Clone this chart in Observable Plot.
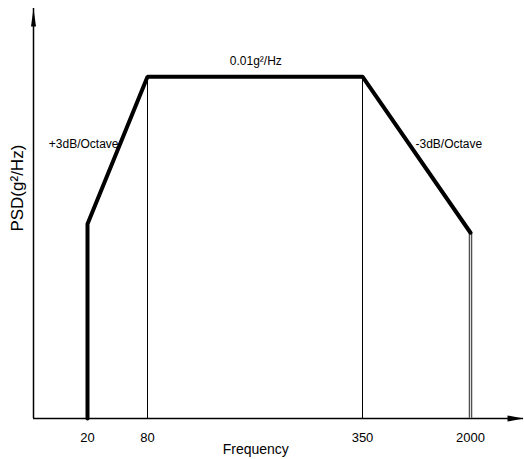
<!DOCTYPE html>
<html>
<head>
<meta charset="utf-8">
<script src="https://cdn.jsdelivr.net/npm/d3@7"></script>
<script src="https://cdn.jsdelivr.net/npm/@observablehq/plot@0.6"></script>
<style>
  html, body { margin: 0; padding: 0; background: #fff; }
  #chart svg { display: block; }
</style>
</head>
<body>
<div id="chart"></div>
<script>
// Frequency breakpoints (Hz) and PSD levels (g²/Hz) of the test profile
const freqTicks = [20, 80, 350, 2000];
const profileFreq = [20, 20, 80, 350, 2000];
const profilePsd = [0.0004, 0.0025, 0.01, 0.01, 0.0023];
const thinFreq = [80, 350];
const thinTop = [0.01, 0.01];
const endFreq = [2000];
const endTop = [0.0023];
const axisFreq = [0, 2600];   // ends of the drawn frequency axis
const axisPsd = [0.0004, 0.019]; // ends of the drawn PSD axis
const labels = ["0.01g²/Hz", "+3dB/Octave", "-3dB/Octave"];
const labelFreq = [216, 51, 1160];
const labelPsd = [0.01, 0.0053, 0.0053];

const profile = profileFreq.map((f, i) => ({f, p: profilePsd[i]}));
const thin = thinFreq.map((f, i) => ({f, p: thinTop[i]}));
const ends = endFreq.map((f, i) => ({f, p: endTop[i]}));
const notes = labels.map((t, i) => ({t, f: labelFreq[i], p: labelPsd[i]}));

const font = "'Liberation Sans Narrow', 'Liberation Sans', Arial, sans-serif";

const chart = Plot.plot({
  width: 524,
  height: 459,
  marginTop: 8,
  marginBottom: 41,
  marginLeft: 33,
  marginRight: 1,
  style: {fontFamily: font, background: "#fff", color: "#000"},
  x: {
    type: "linear",
    domain: [axisFreq[0], 20, 80, 350, 2000, axisFreq[1]],
    range: [33, 87, 147, 362, 470, 523],
    axis: null
  },
  y: {type: "log", domain: axisPsd, axis: null},
  marks: [
    // axes lines
    Plot.ruleY([axisPsd[0]], {x1: axisFreq[0], x2: axisFreq[1], stroke: "#000", strokeWidth: 1.5}),
    Plot.ruleX([axisFreq[0]], {y1: axisPsd[0], y2: axisPsd[1], stroke: "#000", strokeWidth: 1.5}),
    Plot.vector([{f: axisFreq[1], p: axisPsd[0]}], {x: "f", y: "p", rotate: 90, shape: "spike", length: 16, r: 3, anchor: "end", fill: "#000"}),
    Plot.vector([{f: axisFreq[0], p: axisPsd[1]}], {x: "f", y: "p", rotate: 0, shape: "spike", length: 18, r: 2.5, anchor: "end", fill: "#000"}),
    // tick labels
    Plot.text(freqTicks, {x: d => d, y: () => axisPsd[0], text: d => String(d), dy: 19, fontSize: 13, letterSpacing: "-1.5px"}),
    // thin verticals
    Plot.ruleX(thin, {x: "f", y1: axisPsd[0], y2: "p", stroke: "#000", strokeWidth: 1}),
    // end vertical (hollow double line)
    Plot.ruleX(ends, {x: "f", y1: axisPsd[0], y2: "p", stroke: "#444", strokeWidth: 3.5}),
    Plot.ruleX(ends, {x: "f", y1: axisPsd[0], y2: "p", stroke: "#ddd", strokeWidth: 1.2}),
    // profile
    Plot.line(profile, {x: "f", y: "p", stroke: "#000", strokeWidth: 4, strokeLinejoin: "miter"}),
    // annotations
    Plot.text(notes.slice(0, 1), {x: "f", y: "p", text: "t", dy: -16, fontSize: 12, letterSpacing: "-0.8px", textAnchor: "middle"}),
    Plot.text(notes.slice(1, 2), {x: "f", y: "p", text: "t", fontSize: 12, letterSpacing: "-1px", textAnchor: "end"}),
    Plot.text(notes.slice(2, 3), {x: "f", y: "p", text: "t", fontSize: 12, letterSpacing: "-1px", textAnchor: "start"}),
    Plot.text(["Frequency"], {x: () => 216, y: () => axisPsd[0], dy: 31, fontSize: 14, letterSpacing: "-0.8px"}),
    Plot.text(["PSD(g²/Hz)"], {frameAnchor: "left", y: () => 0.0035, dx: -16, rotate: -90, textAnchor: "middle", fontSize: 17, fontFamily: "'Liberation Sans', Arial, sans-serif"})
  ]
});
document.getElementById("chart").appendChild(chart);
</script>
</body>
</html>
